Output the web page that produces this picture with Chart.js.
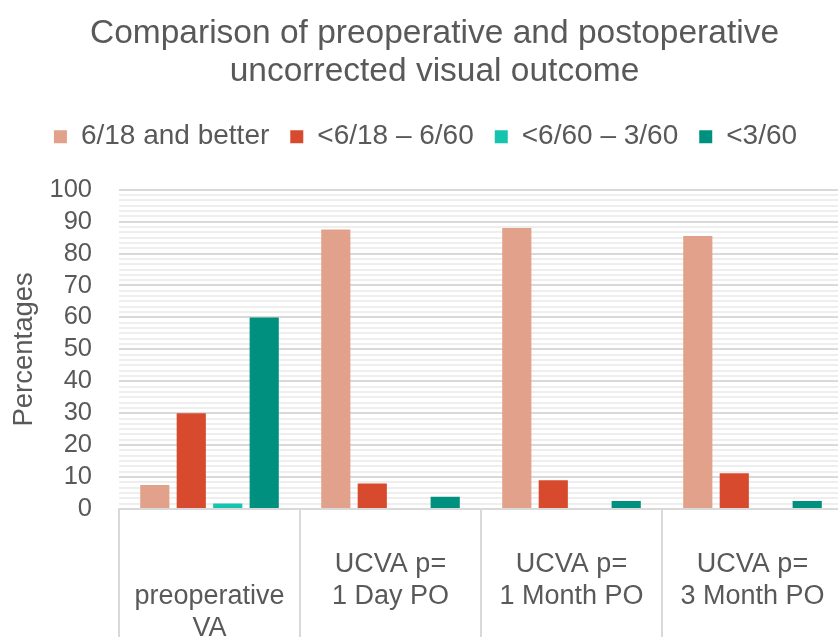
<!DOCTYPE html>
<html><head><meta charset="utf-8">
<script src="https://cdn.jsdelivr.net/npm/chart.js@4.4.0/dist/chart.umd.min.js"></script>
<style>html,body{margin:0;padding:0;background:#fff;overflow:hidden}#wrap{width:838px;height:637px;position:relative;overflow:hidden}</style>
</head><body><div id="wrap"><canvas id="c" width="843" height="637"></canvas></div>
<script>
const categories = [['', 'preoperative', 'VA'], ['UCVA p=', '1 Day PO', ''], ['UCVA p=', '1 Month PO', ''], ['UCVA p=', '3 Month PO', '']];
const seriesNames = ['6/18 and better', '<6/18 \u2013 6/60', '<6/60 \u2013 3/60', '<3/60'];
const better = [7.5, 87.5, 88, 85.5];
const moderate = [30, 8, 9, 11.2];
const severe = [1.7, 0, 0, 0];
const blind = [60, 3.8, 2.5, 2.5];
const yMin = 0, yMax = 100, yStep = 10;
const colors = ['#E1A18B', '#D84A2E', '#15C3AF', '#00907F'];

const FONT = "'Liberation Sans', Arial, sans-serif";
const TXT = '#595959';
const seriesValues = [better, moderate, severe, blind];

const layoutTweaks = {
  id: 'layoutTweaks',
  beforeInit(chart) {
    const lg = chart.legend;
    if (lg) {
      const origFit = lg.fit.bind(lg);
      lg.fit = function () { origFit(); this.height += 29; };
    }
  },
  afterLayout(chart) {
    const t = chart.titleBlock;
    if (t) { t.left += 9; t.right += 9; }
  }
};

new Chart(document.getElementById('c'), {
  type: 'bar',
  data: {
    labels: categories,
    datasets: seriesValues.map((v, i) => ({
      label: seriesNames[i], data: v, backgroundColor: colors[i], borderWidth: 0,
      categoryPercentage: 0.806, barPercentage: 0.8, yAxisID: 'y'
    }))
  },
  plugins: [layoutTweaks],
  options: {
    responsive: false, devicePixelRatio: 1, animation: false,
    layout: { padding: { left: 8, right: 0, top: 0, bottom: 71.6 } },
    plugins: {
      tooltip: { enabled: false },
      title: {
        display: true,
        text: ['Comparison of preoperative and postoperative', 'uncorrected visual outcome'],
        color: TXT, font: { family: FONT, size: 33.5, weight: 'normal', lineHeight: 1.13 },
        padding: { top: 15, bottom: 11 }
      },
      legend: {
        position: 'top',
        labels: { color: TXT, boxWidth: 13, boxHeight: 13, padding: 21, font: { family: FONT, size: 28 } }
      }
    },
    scales: {
      x: {
        offset: true,
        grid: { display: true, offset: true, drawOnChartArea: false, drawTicks: true, tickLength: 200, color: '#d9d9d9', lineWidth: 2 },
        border: { display: true, color: '#d9d9d9', width: 2 },
        ticks: { color: TXT, mirror: true, padding: -71.8, maxRotation: 0, autoSkip: false, font: { family: FONT, size: 27, lineHeight: 1.17 } }
      },
      y: {
        position: 'left', min: yMin, max: yMax,
        ticks: { stepSize: yStep, autoSkip: false, color: TXT, padding: 27, font: { family: FONT, size: 25.5 } },
        grid: { color: '#d9d9d9', lineWidth: 2, drawTicks: false },
        border: { display: false },
        title: { display: true, text: 'Percentages', color: TXT, padding: 0, font: { family: FONT, size: 27.5 } },
        afterFit: s => { s.width = 111; }
      },
      y2: {
        position: 'left', min: 0, max: 60,
        ticks: { display: false, stepSize: 1 },
        grid: { color: c => (c.tick && c.tick.value % 6 === 0) ? 'rgba(0,0,0,0)' : '#eeeeee', lineWidth: 2, drawTicks: false },
        border: { display: false },
        afterFit: s => { s.width = 0; }
      }
    }
  }
});
</script></body></html>
